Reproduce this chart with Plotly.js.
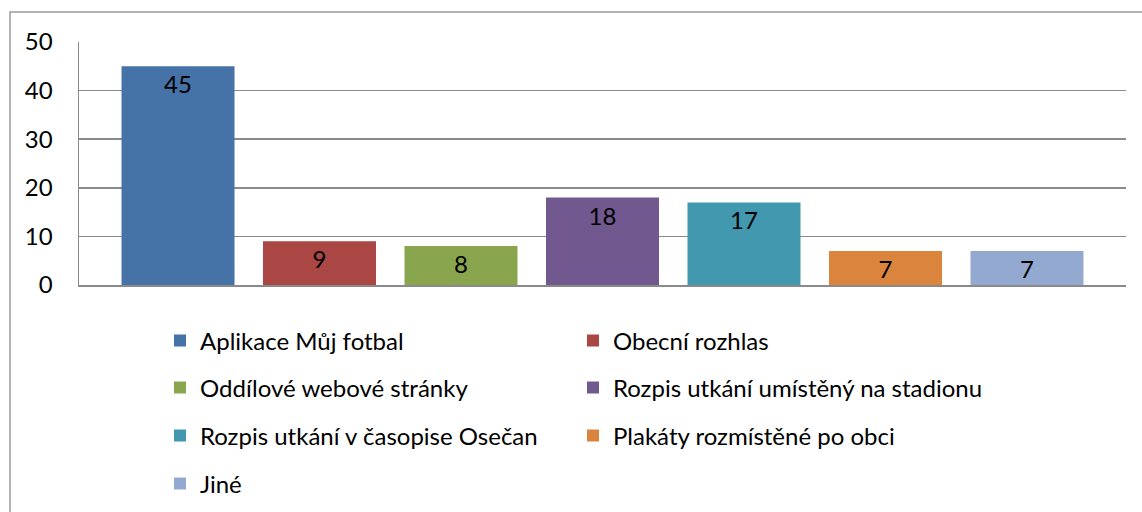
<!DOCTYPE html>
<html>
<head>
<meta charset="utf-8">
<script src="https://cdn.plot.ly/plotly-3.0.1.min.js"></script>
<style>html,body{margin:0;padding:0;background:#fff;}#chart{width:1142px;height:512px;}</style>
</head>
<body>
<div id="chart"></div>
<script>
// ---- data ----
const categories = [
  'Aplikace Můj fotbal',
  'Obecní rozhlas',
  'Oddílové webové stránky',
  'Rozpis utkání umístěný na stadionu',
  'Rozpis utkání v časopise Osečan',
  'Plakáty rozmístěné po obci',
  'Jiné'
];
const values = [45, 9, 8, 18, 17, 7, 7];
const colors = ['#4572A7', '#AA4643', '#89A54E', '#71588F', '#4198AF', '#DB843D', '#93A9CF'];
const groupLabel = ['Odpovědi'];
const yTicks = [0, 10, 20, 30, 40, 50];

// ---- layout helpers (pixel geometry of the plot box) ----
const W = 1142, H = 512;
const L = 79, R = 1126, T = 42, B = 285;
const pw = R - L, ph = B - T;
const px = x => (x - L) / pw;
const py = y => (B - y) / ph;

const FONT = 'Lato, "Open Sans", "Noto Sans", sans-serif';
const legendNames = ['legend', 'legend2', 'legend3', 'legend4'];

const traces = categories.map((name, i) => ({
  type: 'bar',
  name: name,
  x: groupLabel,
  y: [values[i]],
  text: [String(values[i])],
  textposition: 'inside',
  insidetextanchor: 'end',
  textangle: 0,
  constraintext: 'none',
  textfont: {family: FONT, size: 24, color: '#000'},
  marker: {color: colors[i], line: {color: colors[i], width: 0}},
  legend: legendNames[Math.floor(i / 2)],
  hoverinfo: 'name+y'
}));

const rowY = [341, 388, 436, 484];
function mkLegend(row) {
  return {
    orientation: 'h',
    x: px(160), xanchor: 'left',
    y: py(rowY[row]), yanchor: 'middle',
    entrywidth: 368, entrywidthmode: 'pixels',
    font: {family: FONT, size: 24, color: '#000'},
    bgcolor: 'rgba(0,0,0,0)',
    traceorder: 'normal',
    itemclick: false, itemdoubleclick: false
  };
}

const layout = {
  width: W, height: H,
  margin: {l: L, r: W - R, t: T, b: H - B, pad: 0, autoexpand: false},
  paper_bgcolor: '#fff', plot_bgcolor: '#fff',
  font: {family: FONT, size: 24, color: '#000'},
  barmode: 'group',
  bargap: 0.054,
  bargroupgap: 0.2014,
  showlegend: true,
  legend: mkLegend(0),
  legend2: mkLegend(1),
  legend3: mkLegend(2),
  legend4: mkLegend(3),
  xaxis: {
    type: 'category',
    showticklabels: false,
    showgrid: false,
    zeroline: false,
    showline: true, linecolor: '#8a8a8a', linewidth: 1.5,
    ticks: '',
    fixedrange: true
  },
  yaxis: {
    range: [0, 50],
    tickvals: yTicks,
    ticktext: yTicks.map(String),
    showgrid: true, gridcolor: '#8a8a8a', gridwidth: 1.5,
    zeroline: false,
    showline: true, linecolor: '#8a8a8a', linewidth: 1.5,
    ticks: '',
    ticklabelstandoff: 20,
    tickfont: {family: FONT, size: 24, color: '#000'},
    fixedrange: true
  },
  shapes: [{
    type: 'rect', xref: 'paper', yref: 'paper', layer: 'below',
    x0: px(10), x1: px(1152), y0: py(525), y1: py(12),
    line: {color: '#9a9a9a', width: 1.5}, fillcolor: 'rgba(0,0,0,0)'
  }]
};

Plotly.newPlot('chart', traces, layout, {displayModeBar: false, staticPlot: true});
</script>
</body>
</html>
